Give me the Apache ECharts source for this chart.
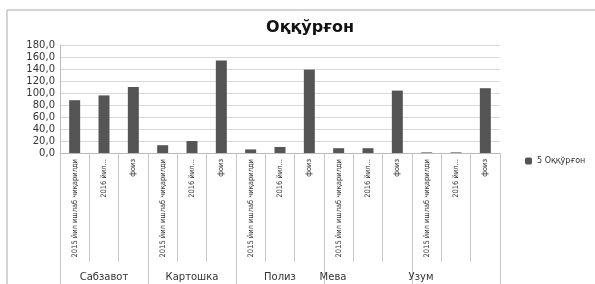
<!DOCTYPE html>
<html>
<head>
<meta charset="utf-8">
<script src="https://cdn.jsdelivr.net/npm/echarts@6/dist/echarts.min.js"></script>
<style>
    body { margin: 0; background: #fff; }
    #chart { width: 595px; height: 284px; }
</style>
</head>
<body>
<div id="chart"></div>
<script>
/* Оққўрғон */
var groups = ['Сабзавот', 'Картошка', 'Полиз', 'Мева', 'Узум'];
var subCats = ['2015 йил ишлаб чиқарилди', '2016 йил...', 'фоиз'];
var values = [88, 96, 110, 13, 20, 154, 6, 10, 139, 8, 8, 104, 1, 1, 108];
var yTicks = [0, 20, 40, 60, 80, 100, 120, 140, 160, 180];

var categories = [];
groups.forEach(function () {
    subCats.forEach(function (s) { categories.push(s); });
});

var myChart = echarts.init(document.getElementById('chart'));
var option = {
    animation: false,
    title: {
        text: 'Оққўрғон',
        left: 305,
        top: 15,
        textAlign: 'center',
        textStyle: {
            fontFamily: 'DejaVu Sans',
            fontWeight: 'bold',
            fontSize: 16,
            color: '#111'
        }
    },
    graphic: [{
        type: 'rect',
        shape: { x: 7, y: 10, width: 620, height: 300 },
        style: { fill: 'none', stroke: '#aaa', lineWidth: 1 },
        silent: true
    }],
    legend: {
        left: 520,
        top: 152,
        itemWidth: 7,
        itemHeight: 7,
        itemGap: 4,
        textStyle: { fontSize: 8, color: '#333', fontFamily: 'DejaVu Sans' },
        data: ['5 Оққўрғон']
    },
    grid: { left: 60, right: 95, top: 45, bottom: 131 },
    xAxis: [{
        type: 'category',
        data: categories,
        axisLine: { lineStyle: { color: '#bbb' } },
        axisTick: { show: true, length: 109, lineStyle: { color: '#c8c8c8' } },
        axisLabel: {
            rotate: 90,
            interval: 0,
            margin: 6,
            fontSize: 7.5,
            color: '#333',
            fontFamily: 'DejaVu Sans Condensed, DejaVu Sans, sans-serif'
        }
    }, {
        type: 'category',
        data: groups,
        position: 'bottom',
        axisLine: { show: false },
        axisTick: { show: true, length: 131, lineStyle: { color: '#c8c8c8' } },
        axisLabel: {
            interval: 0,
            margin: 119,
            fontSize: 10,
            color: '#333',
            fontFamily: 'DejaVu Sans',
            formatter: function (v, i) {
                // Excel puts the last two labels left of centre
                if (i === 2) return '{c|' + v + '}';
                if (i >= 3) return '{l|' + v + '}';
                return v;
            },
            rich: {
                c: { fontSize: 10, color: '#333', padding: [0, 0, 0, 0] },
                l: { fontSize: 10, color: '#333', padding: [0, 70, 0, 0] }
            }
        }
    }],
    yAxis: {
        type: 'value',
        min: yTicks[0],
        max: yTicks[yTicks.length - 1],
        interval: 20,
        axisLine: { show: true, lineStyle: { color: '#bbb' } },
        axisTick: { show: false },
        splitLine: { lineStyle: { color: '#d9d9d9' } },
        axisLabel: {
            fontSize: 10,
            color: '#333',
            margin: 5,
            fontFamily: 'DejaVu Sans',
            formatter: function (v) { return v.toFixed(1).replace('.', ','); }
        }
    },
    series: [{
        name: '5 Оққўрғон',
        type: 'bar',
        xAxisIndex: 0,
        barWidth: 11,
        itemStyle: { color: '#555555' },
        data: values
    }]
};
myChart.setOption(option);
</script>
</body>
</html>
